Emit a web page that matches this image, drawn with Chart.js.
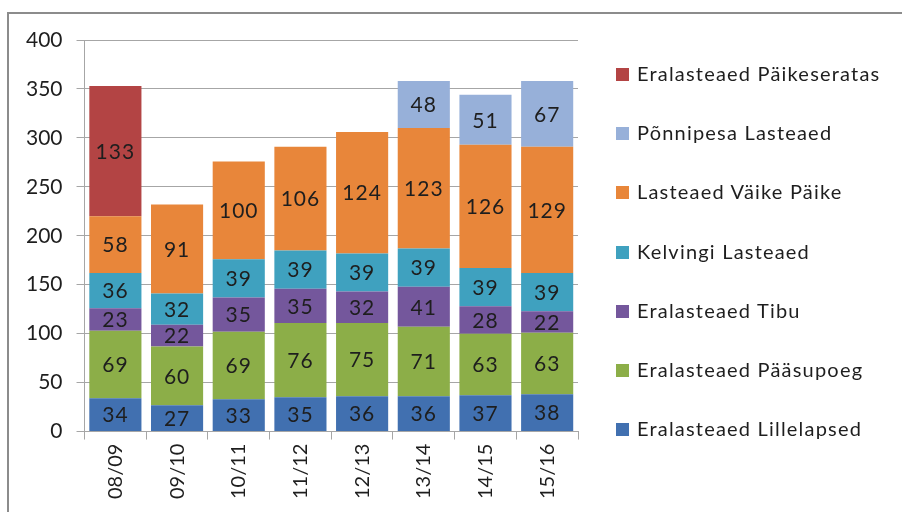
<!DOCTYPE html>
<html>
<head>
<meta charset="utf-8">
<script src="https://cdn.jsdelivr.net/npm/chart.js@4"></script>
<style>
  html, body { margin: 0; padding: 0; background: #fff; }
  #wrap { position: relative; width: 902px; height: 512px; overflow: hidden; }
  #frame { position: absolute; left: 7px; top: 12px; width: 1000px; height: 600px;
           border-left: 2px solid #8c8c8c; border-top: 2px solid #8c8c8c; }
  canvas { position: absolute; left: 0; top: 0; }
  #legend { position: absolute; left: 616px; top: 61px; font-family: Lato, "Open Sans", sans-serif;
            font-size: 20px; letter-spacing: 1.2px; color: #1e1e1e; }
  #legend .row { height: 59.2px; display: flex; align-items: flex-start; white-space: nowrap; }
  #legend .box { width: 13px; height: 13px; margin: 7px 8px 0 0; }
</style>
</head>
<body>
<div id="wrap">
  <div id="frame"></div>
  <canvas id="chart" width="902" height="512"></canvas>
  <div id="legend"></div>
</div>
<script>
// school years
const years = ['08/09', '09/10', '10/11', '11/12', '12/13', '13/14', '14/15', '15/16'];

// kindergartens, bottom of stack first
const lillelapsed  = [34, 27, 33, 35, 36, 36, 37, 38];
const paasupoeg    = [69, 60, 69, 76, 75, 71, 63, 63];
const tibu         = [23, 22, 35, 35, 32, 41, 28, 22];
const kelvingi     = [36, 32, 39, 39, 39, 39, 39, 39];
const vaikePaike   = [58, 91, 100, 106, 124, 123, 126, 129];
const ponnipesa    = [null, null, null, null, null, 48, 51, 67];
const paikeseratas = [133, null, null, null, null, null, null, null];

const yTicks = [0, 50, 100, 150, 200, 250, 300, 350, 400];

const FONT = 'Lato, "Open Sans", sans-serif';
const GRID = '#a6a6a6';

// value labels in the middle of each segment
const segLabels = {
  id: 'segLabels',
  afterDatasetsDraw(chart) {
    const ctx = chart.ctx;
    ctx.save();
    ctx.font = '21px ' + FONT;
    ctx.letterSpacing = '1px';
    ctx.fillStyle = '#1e1e1e';
    ctx.textAlign = 'center';
    ctx.textBaseline = 'middle';
    chart.data.datasets.forEach((ds, i) => {
      chart.getDatasetMeta(i).data.forEach((bar, j) => {
        const v = ds.data[j];
        if (v == null) return;
        ctx.fillText(v, bar.x, (bar.y + bar.base) / 2 + 1);
      });
    });
    ctx.restore();
  }
};

function ds(label, data, color) {
  return { label, data, backgroundColor: color, borderWidth: 0,
           barPercentage: 0.845, categoryPercentage: 1 };
}

const chart = new Chart(document.getElementById('chart'), {
  type: 'bar',
  data: {
    labels: years,
    datasets: [
      ds('Eralasteaed Lillelapsed', lillelapsed, '#4170b0'),
      ds('Eralasteaed Pääsupoeg', paasupoeg, '#8cae48'),
      ds('Eralasteaed Tibu', tibu, '#74579c'),
      ds('Kelvingi Lasteaed', kelvingi, '#3fa1bf'),
      ds('Lasteaed Väike Päike', vaikePaike, '#e8863a'),
      ds('Põnnipesa Lasteaed', ponnipesa, '#97b0d9'),
      ds('Eralasteaed Päikeseratas', paikeseratas, '#b34444'),
    ],
  },
  options: {
    responsive: false,
    animation: false,
    layout: { padding: { left: 12, top: 40, right: 324, bottom: 9 } },
    plugins: {
      tooltip: { enabled: false },
      legend: { display: false },
    },
    scales: {
      x: {
        stacked: true,
        offset: true,
        grid: { display: true, drawOnChartArea: false, offset: true, color: GRID, tickLength: 8 },
        border: { color: GRID },
        ticks: { font: { family: FONT, size: 20 }, color: '#1e1e1e', minRotation: 90, maxRotation: 90, padding: 4 },
      },
      y: {
        stacked: true,
        min: 0,
        max: 400,
        afterBuildTicks: s => { s.ticks = yTicks.map(v => ({ value: v })); },
        grid: { color: GRID, tickLength: 8 },
        border: { color: GRID },
        ticks: { font: { family: FONT, size: 21 }, color: '#1e1e1e', padding: 14 },
      },
    },
  },
  plugins: [segLabels],
});

// legend, top series first
const legend = document.getElementById('legend');
chart.data.datasets.slice().reverse().forEach(d => {
  const row = document.createElement('div');
  row.className = 'row';
  row.innerHTML = '<div class="box" style="background:' + d.backgroundColor + '"></div><span>' + d.label + '</span>';
  legend.appendChild(row);
});
</script>
</body>
</html>
